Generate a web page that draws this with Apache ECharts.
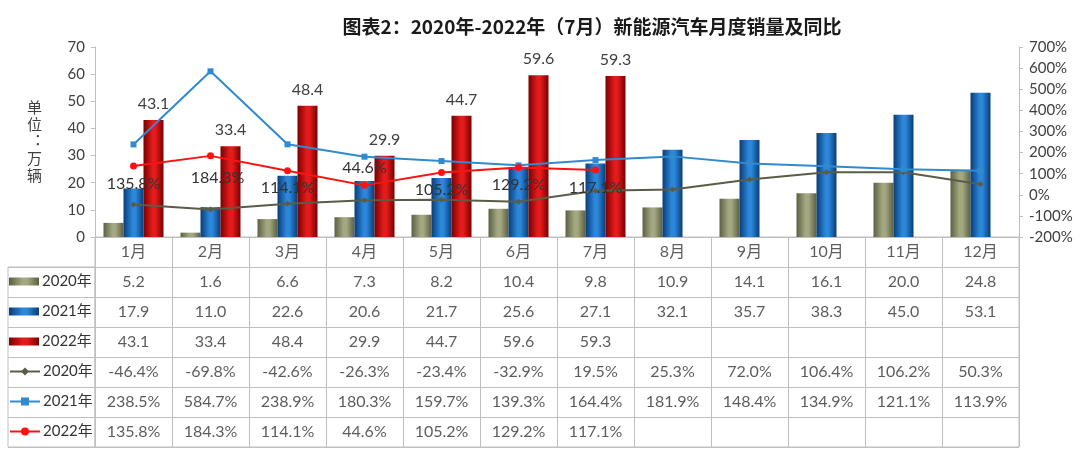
<!DOCTYPE html>
<html><head><meta charset="utf-8">
<script src="https://cdn.jsdelivr.net/npm/echarts@6/dist/echarts.min.js"></script>
<style>html,body{margin:0;padding:0;background:#fff}#c{width:1080px;height:450px}</style>
</head><body><div id="c"></div>
<script>
const months = ['1月','2月','3月','4月','5月','6月','7月','8月','9月','10月','11月','12月'];
const years = ['2020年','2021年','2022年'];
const sales2020 = [5.2,1.6,6.6,7.3,8.2,10.4,9.8,10.9,14.1,16.1,20.0,24.8];
const sales2021 = [17.9,11.0,22.6,20.6,21.7,25.6,27.1,32.1,35.7,38.3,45.0,53.1];
const sales2022 = [43.1,33.4,48.4,29.9,44.7,59.6,59.3];
const yoy2020 = [-46.4,-69.8,-42.6,-26.3,-23.4,-32.9,19.5,25.3,72.0,106.4,106.2,50.3];
const yoy2021 = [238.5,584.7,238.9,180.3,159.7,139.3,164.4,181.9,148.4,134.9,121.1,113.9];
const yoy2022 = [135.8,184.3,114.1,44.6,105.2,129.2,117.1];
const titleText = '图表2：2020年-2022年（7月）新能源汽车月度销量及同比';
const unitText = '单\n位\n︓\n万\n辆';

const FONT = 'Lato, "Noto Sans CJK SC", sans-serif';
const TXT = '#404040';
const GRIDC = '#bfbfbf';

function grad(dark, light) {
  return {type:'linear', x:0, y:0, x2:1, y2:0, colorStops:[
    {offset:0, color:dark},{offset:0.45, color:light},{offset:0.6, color:light},{offset:1, color:dark}]};
}
const barColors = [grad('#5c5f42','#a4a881'), grad('#093d78','#2c86d9'), grad('#7a0000','#e31b1b')];
const lineColors = ['#5a5c48','#2f8ad0','#ff1111'];
const lineSymbols = ['diamond','rect','circle'];
const lineSymbolSizes = [6,6,7];

const salesArr = [sales2020, sales2021, sales2022];
const yoyArr = [yoy2020, yoy2021, yoy2022];
const fmtS = v => (v === undefined ? '' : v.toFixed(1));
const fmtP = v => (v === undefined ? '' : v.toFixed(1) + '%');

// table cells: row 0 header, rows 1-3 sales, rows 4-6 yoy
const cells = [];
months.forEach((m, c) => {
  cells.push({value: [c, 0], text: m});
  salesArr.forEach((arr, i) => cells.push({value: [c, 1 + i], text: fmtS(arr[c])}));
  yoyArr.forEach((arr, i) => cells.push({value: [c, 4 + i], text: fmtP(arr[c])}));
});

const barSeries = salesArr.map((arr, i) => ({
  name: years[i] + '销量', type: 'bar', xAxisIndex: 0, yAxisIndex: 0,
  data: months.map((m, c) => arr[c] === undefined ? '-' : arr[c]),
  barWidth: 20, barGap: '0%',
  itemStyle: {color: barColors[i]},
  z: 2,
  label: i === 2 ? {show: true, position: 'top', distance: 8, fontSize: 16, color: TXT, fontFamily: FONT,
    formatter: p => fmtS(p.value)} : {show: false}
}));

const lineSeries = yoyArr.map((arr, i) => ({
  name: years[i] + '同比', type: 'line', xAxisIndex: 0, yAxisIndex: 1,
  data: arr.map((v, c) => {
    const d = {value: v};
    if (i === 2 && c === 3) d.label = {position: 'top', distance: 6};
    if (i === 2 && c === 1) d.label = {offset: [7, 0], distance: 10};
    return d;
  }),
  symbol: lineSymbols[i], symbolSize: lineSymbolSizes[i],
  lineStyle: {color: lineColors[i], width: 2},
  itemStyle: {color: lineColors[i]},
  z: 5,
  label: i === 2 ? {show: true, position: 'bottom', distance: 6, fontSize: 16, color: '#333', fontFamily: FONT,
    formatter: p => fmtP(p.value)} : {show: false}
}));

const tableSeries = {
  type: 'scatter', xAxisIndex: 1, yAxisIndex: 2, symbolSize: 1, silent: true,
  itemStyle: {color: 'rgba(0,0,0,0)'},
  data: cells,
  label: {show: true, position: 'inside', fontSize: 16, color: '#333', fontFamily: FONT,
    formatter: p => p.data.text}
};

const legends = [];
years.forEach((y, i) => legends.push({name: y + '销量', row: i, bar: true}));
years.forEach((y, i) => legends.push({name: y + '同比', row: 3 + i, bar: false}));

const option = {
  animation: false,
  backgroundColor: '#fff',
  textStyle: {fontFamily: FONT},
  title: {text: titleText, left: 587, top: 12, textAlign: 'center',
    textStyle: {fontSize: 19, fontWeight: 'bold', color: '#1a1a1a', fontFamily: '"Noto Sans CJK SC", sans-serif'}},
  legend: legends.map(l => ({
    data: [l.name], orient: 'vertical', left: 9, top: 267 + l.row * 30 + 7, padding: 0,
    selectedMode: false, itemWidth: 30, itemHeight: l.bar ? 8 : 10, itemGap: 0,
    icon: l.bar ? 'rect' : undefined,
    formatter: n => n.replace('销量', '').replace('同比', ''),
    textStyle: {fontSize: 15, color: '#333', fontFamily: FONT, padding: [0, 0, 0, -2]}
  })),
  grid: [
    {left: 95, right: 61, top: 47, height: 190},
    {left: 95, right: 61, top: 237, height: 210, show: true, borderColor: GRIDC, borderWidth: 1},
    {left: 8, width: 87, top: 267, height: 180, show: true, borderColor: GRIDC, borderWidth: 1}
  ],
  xAxis: [
    {type: 'category', gridIndex: 0, data: months, axisLabel: {show: false}, axisTick: {show: false},
      axisLine: {lineStyle: {color: GRIDC}}},
    {type: 'category', gridIndex: 1, data: months, axisLabel: {show: false}, axisTick: {show: false},
      axisLine: {show: false}, splitLine: {show: true, interval: 0, lineStyle: {color: GRIDC}}},
    {type: 'value', gridIndex: 2, show: false, min: 0, max: 1}
  ],
  yAxis: [
    {type: 'value', gridIndex: 0, min: 0, max: 70, interval: 10,
      name: unitText, nameLocation: 'middle', nameRotate: 0, nameGap: 53,
      nameTextStyle: {fontSize: 15, color: TXT, lineHeight: 17, fontFamily: FONT},
      axisLine: {show: true, lineStyle: {color: GRIDC}},
      axisTick: {show: true, length: 4, lineStyle: {color: GRIDC}},
      splitLine: {show: false},
      axisLabel: {fontSize: 15, color: TXT, margin: 10, fontFamily: FONT}},
    {type: 'value', gridIndex: 0, min: -200, max: 700, interval: 100, position: 'right',
      axisLine: {show: true, lineStyle: {color: GRIDC}},
      axisTick: {show: true, length: 4, lineStyle: {color: GRIDC}},
      splitLine: {show: false},
      axisLabel: {fontSize: 15, color: TXT, margin: 10, fontFamily: FONT, formatter: v => v + '%'}},
    {type: 'category', gridIndex: 1, inverse: true, data: ['r0','r1','r2','r3','r4','r5','r6'],
      axisLabel: {show: false}, axisTick: {show: false}, axisLine: {show: false},
      splitLine: {show: true, interval: 0, lineStyle: {color: GRIDC}}},
    {type: 'category', gridIndex: 2, inverse: true, data: ['a','b','c','d','e','f'],
      axisLabel: {show: false}, axisTick: {show: false}, axisLine: {show: false},
      splitLine: {show: true, interval: 0, lineStyle: {color: GRIDC}}}
  ],
  series: [...barSeries, ...lineSeries, tableSeries]
};

const chart = echarts.init(document.getElementById('c'), null, {renderer: 'canvas'});
chart.setOption(option);
</script>
</body></html>
